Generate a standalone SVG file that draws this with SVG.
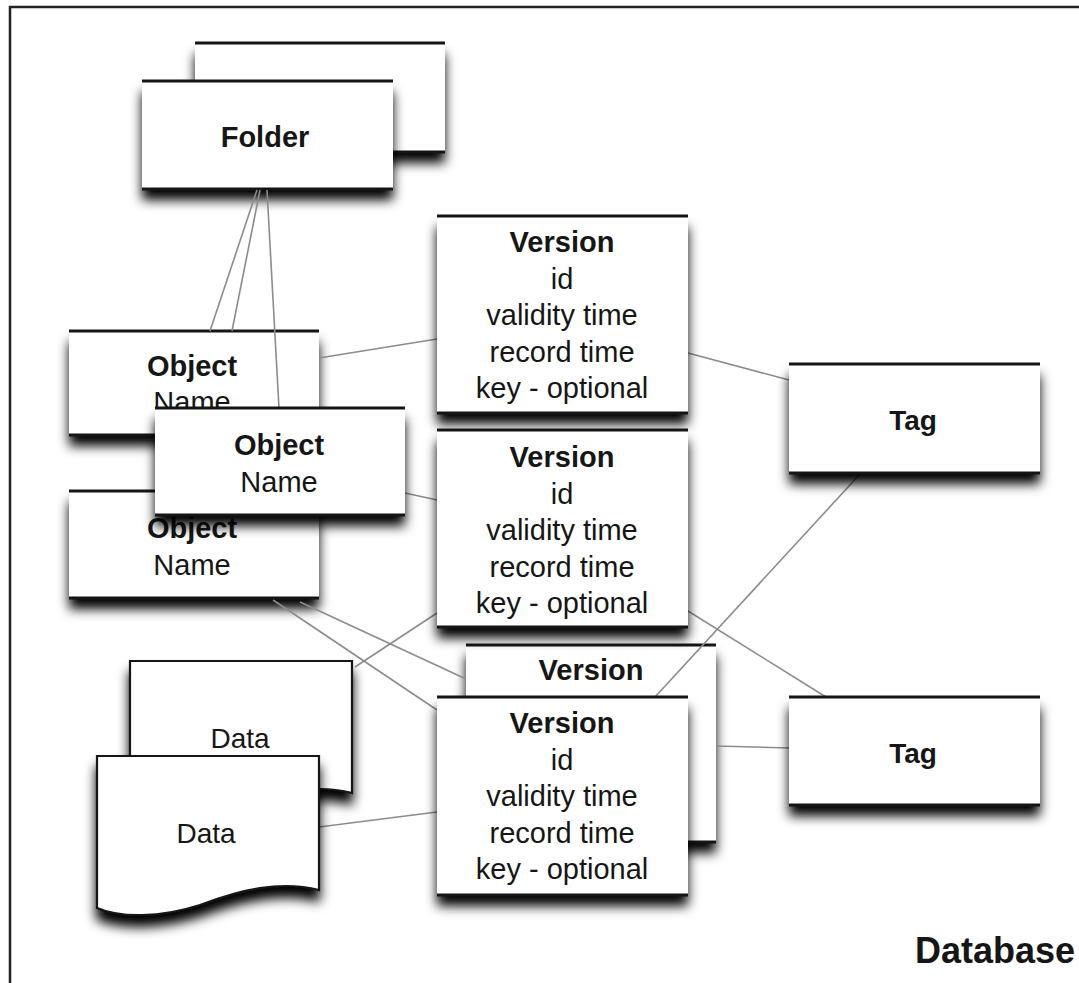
<svg xmlns="http://www.w3.org/2000/svg" width="1079" height="983" viewBox="0 0 1079 983">
<style>
.bg{fill:#fff;filter:url(#sh)}
.edge{stroke:#151515;stroke-width:3;fill:none}
.doc{fill:#fff;stroke:#151515;stroke-width:2.2;filter:url(#sh)}
.t{font-family:"Liberation Sans",Arial,sans-serif;font-size:29px;fill:#161616;text-anchor:middle}
.b{font-weight:bold}
.c{stroke:#8c8c8c;stroke-width:1.6;fill:none}
.frame{stroke:#222;stroke-width:2.5;fill:none}
</style>
<defs>
<filter id="sh" x="-20%" y="-30%" width="140%" height="190%">
<feGaussianBlur in="SourceAlpha" stdDeviation="6"/>
<feOffset dy="11"/>
<feComponentTransfer><feFuncA type="linear" slope="1"/></feComponentTransfer>
<feMerge><feMergeNode/><feMergeNode in="SourceGraphic"/></feMerge>
</filter>
</defs>
<rect width="1079" height="983" fill="#fff"/>
<path class="frame" d="M10,983 V7 H1079"/>

<g id="folder-back">
<rect class="bg" x="195" y="43" width="250" height="109"/>
<path class="edge" d="M195,43 H445 M195,152 H445"/>
</g>
<g id="folder">
<rect class="bg" x="142" y="81" width="251" height="108"/>
<path class="edge" d="M142,81 H393 M142,189 H393"/>
<text class="t b" x="265" y="147">Folder</text>
</g>
<g id="object1">
<rect class="bg" x="69" y="331" width="250" height="104"/>
<path class="edge" d="M69,331 H319 M69,435 H319"/>
<text class="t b" x="192" y="376">Object</text>
<text class="t" x="192" y="412">Name</text>
</g>
<g id="object3">
<rect class="bg" x="69" y="491" width="250" height="107"/>
<path class="edge" d="M69,491 H319 M69,598 H319"/>
<text class="t b" x="192" y="538">Object</text>
<text class="t" x="192" y="575">Name</text>
</g>
<g id="version3-back">
<rect class="bg" x="466" y="645" width="250" height="197"/>
<path class="edge" d="M466,645 H716 M466,842 H716"/>
<text class="t b" x="591" y="680">Version</text>
</g>
<g id="data-back">
<path class="doc" d="M130,661 H352 V793 C313,783 273,793 233,808 C193,821 153,821 130,811 Z"/>
<text class="t" x="240" y="748" style="font-size:28px">Data</text>
</g>

<g id="connectors">
<line class="c" x1="257" y1="190" x2="210" y2="331"/>
<line class="c" x1="260" y1="190" x2="232" y2="331"/>
<line class="c" x1="267" y1="190" x2="279" y2="408"/>
<line class="c" x1="319" y1="358" x2="437" y2="339"/>
<line class="c" x1="405" y1="493" x2="437" y2="500"/>
<line class="c" x1="688" y1="353" x2="789" y2="380"/>
<line class="c" x1="273" y1="600" x2="437" y2="710"/>
<line class="c" x1="300" y1="602" x2="466" y2="679"/>
<line class="c" x1="355" y1="667" x2="437" y2="613"/>
<line class="c" x1="688" y1="611" x2="826" y2="697"/>
<line class="c" x1="861" y1="473" x2="655" y2="697"/>
<line class="c" x1="716" y1="746" x2="789" y2="748"/>
<line class="c" x1="319" y1="827" x2="437" y2="812"/>
</g>

<g id="object2">
<rect class="bg" x="155" y="408" width="250" height="107"/>
<path class="edge" d="M155,408 H405 M155,515 H405"/>
<text class="t b" x="279" y="455">Object</text>
<text class="t" x="279" y="492">Name</text>
</g>
<g id="version1">
<rect class="bg" x="437" y="216" width="251" height="197"/>
<path class="edge" d="M437,216 H688 M437,413 H688"/>
<text class="t b" x="562" y="252">Version</text>
<text class="t" x="562" y="288.5">id</text>
<text class="t" x="562" y="325">validity time</text>
<text class="t" x="562" y="361.5">record time</text>
<text class="t" x="562" y="398">key - optional</text>
</g>
<g id="version2">
<rect class="bg" x="437" y="430" width="251" height="197"/>
<path class="edge" d="M437,430 H688 M437,627 H688"/>
<text class="t b" x="562" y="467">Version</text>
<text class="t" x="562" y="503.5">id</text>
<text class="t" x="562" y="540">validity time</text>
<text class="t" x="562" y="576.5">record time</text>
<text class="t" x="562" y="613">key - optional</text>
</g>
<g id="version4">
<rect class="bg" x="437" y="697" width="251" height="198"/>
<path class="edge" d="M437,697 H688 M437,895 H688"/>
<text class="t b" x="562" y="733">Version</text>
<text class="t" x="562" y="769.5">id</text>
<text class="t" x="562" y="806">validity time</text>
<text class="t" x="562" y="842.5">record time</text>
<text class="t" x="562" y="879">key - optional</text>
</g>
<g id="tag1">
<rect class="bg" x="789" y="364" width="251" height="109"/>
<path class="edge" d="M789,364 H1040 M789,473 H1040"/>
<text class="t b" x="913" y="430" style="font-size:28px">Tag</text>
</g>
<g id="tag2">
<rect class="bg" x="789" y="697" width="251" height="108"/>
<path class="edge" d="M789,697 H1040 M789,805 H1040"/>
<text class="t b" x="913" y="763" style="font-size:28px">Tag</text>
</g>
<g id="data-front">
<path class="doc" d="M97,756 H319 V890 C280,880 240,890 200,905 C160,918 120,918 97,908 Z"/>
<text class="t" x="206" y="843" style="font-size:28px">Data</text>
</g>
<text class="t b" x="1075" y="963" style="font-size:36px;text-anchor:end">Database</text>
</svg>
